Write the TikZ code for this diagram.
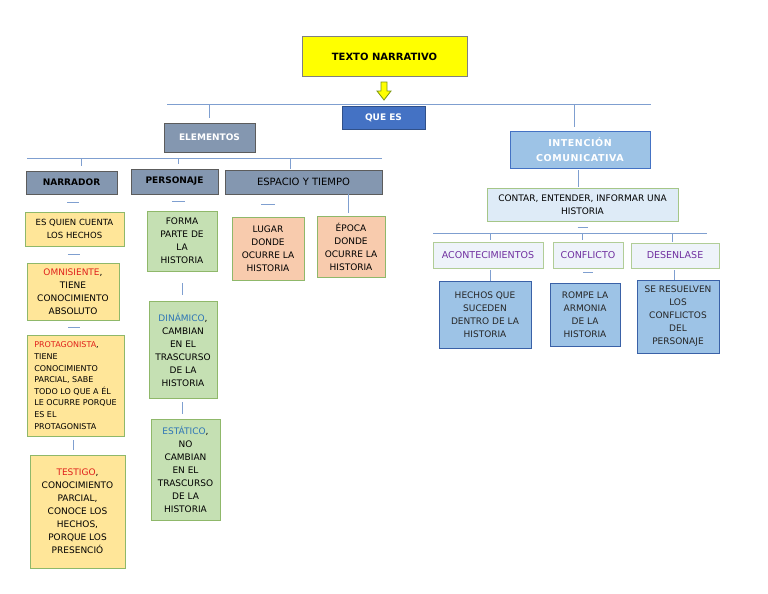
\documentclass[tikz,border=0pt]{standalone}
\usepackage{fontspec}
\setmainfont{DejaVu Sans}
\usepackage{xcolor}
\usepackage{tikz}
\usetikzlibrary{calc}

% colores del mapa
\definecolor{amarillo}{HTML}{FFFF00}
\definecolor{azulQ}{HTML}{4472C4}
\definecolor{pizarra}{HTML}{8497B0}
\definecolor{crema}{HTML}{FFE699}
\definecolor{verdeC}{HTML}{C5E0B3}
\definecolor{salmon}{HTML}{F8CBAD}
\definecolor{celeste}{HTML}{9DC3E6}
\definecolor{hielo}{HTML}{DEEBF7}
\definecolor{nieve}{HTML}{EEF3FA}
\definecolor{borde}{HTML}{8FB86A}
\definecolor{linea}{HTML}{7F9FD0}
\definecolor{rojo}{HTML}{E0201B}
\definecolor{azulT}{HTML}{2E75B6}
\definecolor{morado}{HTML}{7030A0}

\tikzset{
  caja/.style={draw, line width=1pt, align=center, inner sep=1pt,
    font=\fontsize{9}{13}\selectfont},
  cabeza/.style={caja, fill=pizarra, draw=gray!40!black!80, line width=0.8pt,
    font=\fontsize{9}{12}\selectfont\bfseries},
  narr/.style={caja, fill=crema, draw=borde},
  pers/.style={caja, fill=verdeC, draw=borde},
  esp/.style={caja, fill=salmon, draw=borde},
  tipo/.style={caja, fill=nieve, draw=borde!70, text=morado, font=\fontsize{9.5}{12}\selectfont},
  fondo/.style={caja, fill=celeste, draw=azulQ!85!black, text=black!85},
  conector/.style={draw=linea, line width=1pt},
}

\begin{document}
\begin{tikzpicture}[x=1pt, y=-1pt]
    \useasboundingbox[fill=white] (0,0) rectangle (768,594);

    % 1. Título y flecha
    \node[caja, fill=amarillo, draw=gray, minimum width=165pt, minimum height=39pt,
      font=\fontsize{10}{12}\selectfont\bfseries] (titulo) at (384.5,56.5) {TEXTO NARRATIVO};
    \filldraw[fill=amarillo, draw=olive!70!green, line width=0.8pt]
      (381,82) -- (387,82) -- (387,91) -- (391,91) -- (384,100) -- (377,91) -- (381,91) -- cycle;
    \node[caja, fill=azulQ, draw=azulQ!70!black, text=white, minimum width=83pt, minimum height=23pt,
      font=\fontsize{9}{12}\selectfont\bfseries] (quees) at (383.5,117.5) {QUE ES};

    % 2. Ramas principales
    \node[cabeza, text=white, minimum width=91pt, minimum height=29pt] (elementos) at (209.5,137.5) {ELEMENTOS};
    \node[caja, fill=celeste, draw=azulQ, text=white, minimum width=140pt, minimum height=37pt,
      font=\fontsize{9.5}{15}\selectfont\bfseries\addfontfeature{LetterSpace=6}] (intencion) at (580,149.5)
      {INTENCIÓN\\COMUNICATIVA};
    \coordinate (b1i) at (167,104);
    \coordinate (b1d) at (651,104);
    \draw[conector] (b1i) -- (b1d);
    \draw[conector, shorten >=5pt] (elementos.north |- b1i) -- (elementos.north);
    \draw[conector, shorten >=4pt] (574,104) coordinate (t1) -- (t1 |- intencion.north);

    % 3. Elementos: narrador, personaje, espacio y tiempo
    \node[cabeza, minimum width=91pt, minimum height=23pt] (narrador) at (71.5,182.5) {NARRADOR};
    \node[cabeza, minimum width=87pt, minimum height=25pt] (personaje) at (174.5,181.5) {PERSONAJE};
    \node[cabeza, minimum width=157pt, minimum height=24pt,
      font=\fontsize{10}{12}\selectfont] (espacio) at (303.5,182) {ESPACIO Y TIEMPO};
    \coordinate (b2i) at (27,158);
    \coordinate (b2d) at (382,158);
    \draw[conector] (b2i) -- (b2d);
    \draw[conector, shorten >=5pt] (81,158) coordinate (t2) -- (t2 |- narrador.north);
    \draw[conector, shorten >=5pt] (178,158) coordinate (t3) -- (t3 |- personaje.north);
    \draw[conector] (290,158) coordinate (t4) -- ($(t4 |- espacio.north)+(0,-1)$);

    % 4. Tipos de narrador
    \node[narr, minimum width=99pt, minimum height=34pt,
      font=\fontsize{8.5}{13}\selectfont] (quien) at (74.5,229) {ES QUIEN CUENTA\\LOS HECHOS};
    \node[narr, minimum width=92pt, minimum height=57pt] (omni) at (73,291.5)
      {\textcolor{rojo}{OMNISIENTE}, \\TIENE\\CONOCIMIENTO\\ABSOLUTO};
    \node[narr, minimum width=97pt, minimum height=101pt, align=left,
      font=\fontsize{8}{11.6}\selectfont] (prota) at (75.5,385.5)
      {\textcolor{rojo}{PROTAGONISTA},\\TIENE\\CONOCIMIENTO\\PARCIAL, SABE\\TODO LO QUE A ÉL\\LE OCURRE PORQUE\\ES EL\\PROTAGONISTA};
    \node[narr, minimum width=95pt, minimum height=113pt] (testigo) at (77.5,511.5)
      {\textcolor{rojo}{TESTIGO},\\CONOCIMIENTO\\PARCIAL,\\CONOCE LOS\\HECHOS,\\PORQUE LOS\\PRESENCIÓ};
    \draw[conector] ($(narrador.south)!0.5!(quien.north)+(-6,0)$) -- ++(12,0);
    \draw[conector] ($(quien.south)!0.5!(omni.north)+(-6,0)$) -- ++(12,0);
    \draw[conector] ($(omni.south)!0.5!(prota.north)+(-6,0)$) -- ++(12,0);
    \draw[conector, shorten <=4pt, shorten >=5pt] (73,436) coordinate (t5) -- (t5 |- testigo.north);

    % 5. Personajes
    \node[pers, minimum width=70pt, minimum height=60pt] (forma) at (182,241) {FORMA\\PARTE DE\\LA\\HISTORIA};
    \node[pers, minimum width=68pt, minimum height=97pt] (dinamico) at (183,349.5)
      {\textcolor{azulT}{DINÁMICO},\\CAMBIAN\\EN EL\\TRASCURSO\\DE LA\\HISTORIA};
    \node[pers, minimum width=69pt, minimum height=101pt] (estatico) at (185.5,469.5)
      {\textcolor{azulT}{ESTÁTICO},\\NO\\CAMBIAN\\EN EL\\TRASCURSO\\DE LA\\HISTORIA};
    \draw[conector] ($(personaje.south)!0.45!(forma.north)+(-6,0)$) -- ++(13,0);
    \draw[conector, shorten <=12pt, shorten >=6pt] (182,271) coordinate (t6) -- (t6 |- dinamico.north);
    \draw[conector, shorten <=4pt, shorten >=5pt] (182,398) coordinate (t7) -- (t7 |- estatico.north);

    % 6. Espacio y tiempo
    \node[esp, minimum width=72pt, minimum height=63pt] (lugar) at (268,248.5) {LUGAR\\DONDE\\OCURRE LA\\HISTORIA};
    \node[esp, minimum width=68pt, minimum height=61pt] (epoca) at (351,246.5) {ÉPOCA\\DONDE\\OCURRE LA\\HISTORIA};
    \draw[conector] ($(espacio.south -| lugar.north)!0.45!(lugar.north)+(-7,0)$) -- ++(14,0);
    \draw[conector, shorten >=3pt] (348,194) coordinate (t8) -- (t8 |- epoca.north);

    % 7. Intención comunicativa
    \node[caja, fill=hielo, draw=borde!80, minimum width=191pt, minimum height=33pt,
      font=\fontsize{9}{13}\selectfont] (contar) at (582.5,204.5)
      {CONTAR, ENTENDER, INFORMAR UNA\\HISTORIA};
    \draw[conector, shorten <=2pt, shorten >=1pt] (578,168) coordinate (t9) -- (t9 |- contar.north);
    \draw[conector] ($(contar.south)+(-5,6)$) -- ++(10,0);
    \coordinate (b3i) at (433,233);
    \coordinate (b3d) at (707,233);
    \draw[conector] (b3i) -- (b3d);

    \node[tipo, minimum width=110pt, minimum height=26pt] (acont) at (488,255) {ACONTECIMIENTOS};
    \node[tipo, minimum width=70pt, minimum height=26pt] (confl) at (588,255) {CONFLICTO};
    \node[tipo, minimum width=88pt, minimum height=25pt] (desen) at (675,255.5) {DESENLASE};
    \draw[conector, shorten >=2pt] (490,233) coordinate (t10) -- (t10 |- acont.north);
    \draw[conector, shorten >=2pt] (582,233) coordinate (t11) -- (t11 |- confl.north);
    \draw[conector, shorten >=1pt] (672,233) coordinate (t12) -- (t12 |- desen.north);

    \node[fondo, minimum width=92pt, minimum height=67pt] (hechos) at (485,314.5) {HECHOS QUE\\SUCEDEN\\DENTRO DE LA\\HISTORIA};
    \node[fondo, minimum width=70pt, minimum height=63pt] (rompe) at (585,314.5) {ROMPE LA\\ARMONIA\\DE LA\\HISTORIA};
    \node[fondo, minimum width=82pt, minimum height=73pt] (resuelven) at (678,316.5)
      {SE RESUELVEN\\LOS\\CONFLICTOS\\DEL\\PERSONAJE};
    \draw[conector, shorten <=2pt] (490,268) coordinate (t13) -- (t13 |- hechos.north);
    \draw[conector] ($(confl.south)+(-5,4)$) -- ++(10,0);
    \draw[conector, shorten <=2pt] (674,268) coordinate (t14) -- (t14 |- resuelven.north);

\end{tikzpicture}
\end{document}
